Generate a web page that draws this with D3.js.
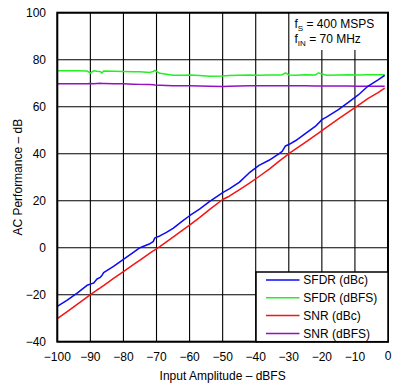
<!DOCTYPE html>
<html>
<head>
<meta charset="utf-8">
<script src="https://cdn.jsdelivr.net/npm/d3@7"></script>
<style>
  html, body { margin: 0; padding: 0; background: #fff; }
  svg { display: block; font-family: "Liberation Sans", Arial, Helvetica, sans-serif; }
</style>
</head>
<body>
<svg id="chart" width="396" height="383"></svg>
<script>
// Input amplitude sweep (dBFS)
const amplitude = [-100, -97, -94, -91, -90, -89, -88, -87, -86.5, -86, -83, -80, -77, -75, -72, -71, -70.5, -69, -67, -65, -62, -60, -57, -54, -50, -48, -45, -42, -39, -36, -33, -32, -31, -30, -28, -25, -22, -21, -20, -18.5, -15, -12, -9, -6, -3, -1];

// SFDR referred to carrier
const sfdrDbc = [-25.0, -22.3, -19.3, -16.0, -15.5, -15.0, -13.3, -12.6, -11.8, -10.6, -7.9, -5.0, -2.0, 0.0, 1.7, 2.6, 4.2, 5.0, 6.5, 8.2, 11.5, 13.6, 16.4, 19.6, 23.4, 25.0, 27.8, 31.8, 35.0, 37.2, 39.9, 41.0, 43.3, 43.9, 45.5, 48.5, 51.6, 53.0, 54.5, 55.7, 58.8, 61.8, 65.0, 68.8, 71.4, 73.3];

// SFDR referred to full scale
const sfdrDbfs = [75.3, 75.3, 75.3, 75.2, 74.3, 75.3, 75.1, 75.0, 74.3, 75.2, 75.1, 75.0, 74.9, 74.9, 74.6, 75.0, 75.4, 74.2, 73.8, 73.4, 73.4, 73.5, 73.3, 73.0, 73.1, 73.3, 73.4, 73.5, 73.4, 73.5, 73.5, 73.6, 74.4, 73.5, 73.4, 73.6, 73.5, 74.4, 73.9, 73.4, 73.5, 73.6, 73.5, 73.6, 73.6, 73.6];

// SNR referred to carrier
const snrDbc = [-30.2, -27.2, -24.1, -21.0, -20.0, -19.0, -18.0, -17.1, -16.6, -16.1, -13.1, -10.2, -7.2, -5.3, -2.3, -1.4, -0.9, 0.5, 2.5, 4.5, 7.6, 9.6, 12.8, 16.2, 20.5, 21.9, 24.6, 27.4, 30.3, 33.3, 36.7, 37.8, 38.9, 40.0, 41.9, 44.8, 47.8, 48.8, 49.8, 51.3, 54.8, 57.7, 60.6, 63.5, 66.0, 67.9];

// SNR referred to full scale
const snrDbfs = [69.8, 69.8, 69.8, 69.8, 69.9, 69.8, 69.9, 70.0, 69.9, 69.9, 69.8, 69.8, 69.6, 69.5, 69.4, 69.3, 69.2, 69.1, 69.0, 68.9, 68.9, 68.9, 68.8, 68.7, 68.6, 68.7, 68.8, 68.9, 68.9, 68.9, 68.9, 68.9, 68.9, 68.9, 68.9, 68.9, 68.8, 68.8, 68.8, 68.8, 68.8, 68.8, 68.7, 68.7, 68.7, 68.7];

const seriesNames = ["SFDR (dBc)", "SFDR (dBFS)", "SNR (dBc)", "SNR (dBFS)"];
const seriesColors = ["#0a0af5", "#22f022", "#f51414", "#9410c8"];
const seriesValues = [sfdrDbc, sfdrDbfs, snrDbc, snrDbfs];

const xTicks = [-100, -90, -80, -70, -60, -50, -40, -30, -20, -10, 0];
const yTicks = [-40, -20, 0, 20, 40, 60, 80, 100];

const svg = d3.select("#chart");
const m = { left: 57.3, right: 388, top: 12.7, bottom: 341.7 };

const x = d3.scaleLinear().domain([-100, 0]).range([m.left, m.right]);
const y = d3.scaleLinear().domain([-40, 100]).range([m.bottom, m.top]);

// grid
const grid = svg.append("g");
grid.selectAll(".vg").data(xTicks).join("line")
  .attr("x1", d => x(d)).attr("x2", d => x(d))
  .attr("y1", m.top).attr("y2", m.bottom)
  .attr("stroke", "#000").attr("stroke-width", 1.1);
grid.selectAll(".hg").data(yTicks).join("line")
  .attr("x1", m.left).attr("x2", m.right)
  .attr("y1", d => y(d)).attr("y2", d => y(d))
  .attr("stroke", "#000").attr("stroke-width", 1.1);

// condition box (hides the grid behind it)
svg.append("rect")
  .attr("x", 290).attr("y", m.top)
  .attr("width", m.right - 290).attr("height", 50 - m.top)
  .attr("fill", "#fff");
const note = svg.append("g").attr("font-size", 12).attr("fill", "#000");
const t1 = note.append("text").attr("x", 294.5).attr("y", 28.3);
t1.append("tspan").text("f");
t1.append("tspan").attr("font-size", 8).attr("dy", 3).text("S");
t1.append("tspan").attr("dy", -3).text(" = 400 MSPS");
const t2 = note.append("text").attr("x", 294.5).attr("y", 43.3);
t2.append("tspan").text("f");
t2.append("tspan").attr("font-size", 8).attr("dy", 3).text("IN");
t2.append("tspan").attr("dy", -3).text(" = 70 MHz");

// series
const line = d3.line().x((d, i) => x(amplitude[i])).y(d => y(d));
const order = [3, 1, 2, 0];
svg.append("g").selectAll("path").data(order).join("path")
  .attr("d", k => line(seriesValues[k]))
  .attr("fill", "none")
  .attr("stroke", k => seriesColors[k])
  .attr("stroke-width", 1.5)
  .attr("stroke-linejoin", "round");

// plot frame
svg.append("rect")
  .attr("x", m.left).attr("y", m.top)
  .attr("width", m.right - m.left).attr("height", m.bottom - m.top)
  .attr("fill", "none").attr("stroke", "#000").attr("stroke-width", 2);

// legend
const lg = svg.append("g");
lg.append("rect")
  .attr("x", 256).attr("y", 272)
  .attr("width", m.right - 256).attr("height", m.bottom - 272)
  .attr("fill", "#fff").attr("stroke", "#000").attr("stroke-width", 1.5);
seriesNames.forEach((name, i) => {
  const cy = 280 + i * 17.8;
  lg.append("line").attr("x1", 266).attr("x2", 299.5).attr("y1", cy).attr("y2", cy)
    .attr("stroke", seriesColors[i]).attr("stroke-width", 1.5);
  lg.append("text").attr("x", 303.3).attr("y", cy).attr("dy", "0.35em")
    .attr("font-size", 12).attr("fill", "#000").text(name);
});

// axes labels
const fmt = d => (d < 0 ? "\u2212" + Math.abs(d) : String(d));
svg.append("g").selectAll("text").data(yTicks).join("text")
  .attr("x", 46).attr("y", d => y(d)).attr("dy", "0.35em")
  .attr("text-anchor", "end").attr("font-size", 12).attr("fill", "#000")
  .text(fmt);
svg.append("g").selectAll("text").data(xTicks).join("text")
  .attr("x", d => x(d)).attr("y", d => d === 0 ? 359.5 : 361)
  .attr("text-anchor", "middle").attr("font-size", 12).attr("fill", "#000")
  .text(fmt);

svg.append("text")
  .attr("x", (m.left + m.right) / 2).attr("y", 380)
  .attr("text-anchor", "middle").attr("font-size", 12).attr("fill", "#000")
  .text("Input Amplitude \u2013 dBFS");
svg.append("text")
  .attr("transform", `translate(21.5,${(m.top + m.bottom) / 2}) rotate(-90)`)
  .attr("text-anchor", "middle").attr("font-size", 12).attr("fill", "#000")
  .text("AC Performance \u2013 dB");
</script>
</body>
</html>
